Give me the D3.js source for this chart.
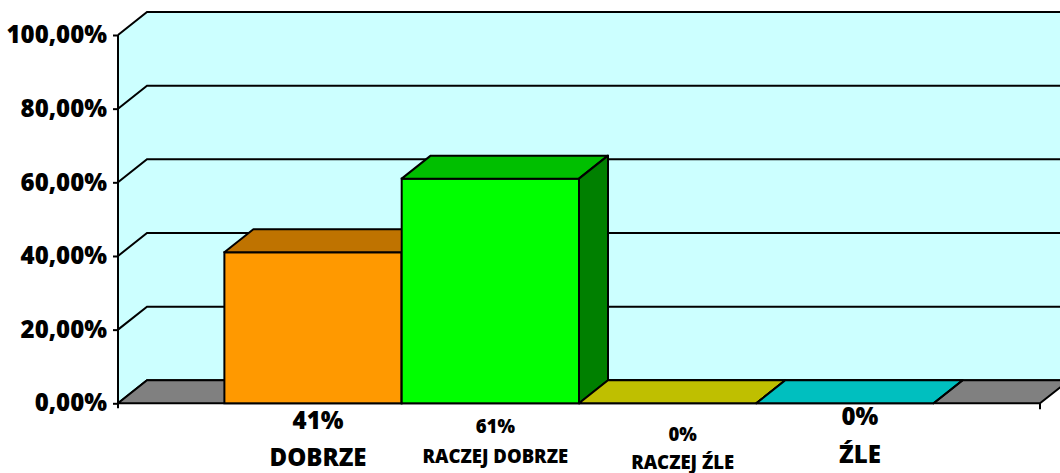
<!DOCTYPE html>
<html lang="pl">
<head>
<meta charset="UTF-8">
<title>Ocena</title>
<script src="https://d3js.org/d3.v7.min.js"></script>
<style>
  body { margin: 0; background: #fff; }
  svg { display: block; font-family: "Open Sans", sans-serif; font-weight: 800; }
</style>
</head>
<body>
<script>
// dane
const categories = ["DOBRZE", "RACZEJ DOBRZE", "RACZEJ ŹLE", "ŹLE"];
const values = [41, 61, 0, 0];
const colors = ["#ff9900", "#00ff00", "#ffff00", "#00ffff"];
const yTicks = [0, 20, 40, 60, 80, 100];

// ustawienia etykiet pod słupkami (przesunięcia od podstawy osi)
const labelLayout = [
  { dx: 5,  vy: 26, ny: 63, size: 24 },
  { dx: 5,  vy: 30, ny: 60, size: 18.5 },
  { dx: 15, vy: 38, ny: 66, size: 18.5 },
  { dx: 15, vy: 22, ny: 60, size: 24 }
];

const width = 1060, height = 473;
const depthX = 29, depthY = -23;
const plotLeft = 118, plotRight = 1040, plotTop = 35, plotBase = 403.3;

const svg = d3.select("body").append("svg")
  .attr("width", width).attr("height", height);

const y = d3.scaleLinear().domain([0, 100]).range([plotBase, plotTop]);
const x = d3.scaleBand().domain(categories).range([plotLeft, plotRight])
  .paddingInner(0).paddingOuter(0.6);

const pl = d3.formatLocale({ decimal: ",", thousands: " ", grouping: [3], currency: ["", " zł"] });
const pct = pl.format(".2%");

function shade(c, k) {
  const r = d3.rgb(c);
  return d3.rgb(r.r * k, r.g * k, r.b * k).formatHex();
}
const pts = a => a.map(p => p.join(",")).join(" ");

// ściany
svg.append("polygon")
  .attr("points", pts([[plotLeft, y(100)], [plotLeft + depthX, y(100) + depthY], [plotLeft + depthX, y(0) + depthY], [plotLeft, y(0)]]))
  .attr("fill", "#ccffff");
svg.append("rect")
  .attr("x", plotLeft + depthX).attr("y", y(100) + depthY)
  .attr("width", width).attr("height", y(0) - y(100))
  .attr("fill", "#ccffff");

// linie siatki
svg.append("g").selectAll("path").data(yTicks).join("path")
  .attr("d", t => `M${plotLeft},${y(t)}L${plotLeft + depthX},${y(t) + depthY}H${width + 40}`)
  .attr("fill", "none").attr("stroke", "#000").attr("stroke-width", 2);

// podłoga
svg.append("polygon")
  .attr("points", pts([[plotLeft, y(0)], [plotLeft + depthX, y(0) + depthY], [plotRight + depthX, y(0) + depthY], [plotRight, y(0)]]))
  .attr("fill", "#808080").attr("stroke", "#000").attr("stroke-width", 2)
  .attr("stroke-linejoin", "round");

// słupki 3D
const bars = svg.append("g").selectAll("g").data(categories).join("g");
bars.each(function (c, i) {
  const g = d3.select(this);
  const x0 = x(c), x1 = x(c) + x.bandwidth();
  const yt = y(values[i]), yb = y(0);
  const col = colors[i];
  g.append("rect")
    .attr("x", x0).attr("y", yt).attr("width", x1 - x0).attr("height", yb - yt)
    .attr("fill", col).attr("stroke", "#000").attr("stroke-width", 2);
  g.append("polygon")
    .attr("points", pts([[x0, yt], [x0 + depthX, yt + depthY], [x1 + depthX, yt + depthY], [x1, yt]]))
    .attr("fill", shade(col, 0.75)).attr("stroke", "#000").attr("stroke-width", 2)
    .attr("stroke-linejoin", "round");
  g.append("polygon")
    .attr("points", pts([[x1, yt], [x1 + depthX, yt + depthY], [x1 + depthX, yb + depthY], [x1, yb]]))
    .attr("fill", shade(col, 0.5)).attr("stroke", "#000").attr("stroke-width", 2)
    .attr("stroke-linejoin", "round");
});

// oś Y
const axis = d3.axisLeft(y).tickValues(yTicks).tickSize(5).tickSizeOuter(0).tickPadding(6)
  .tickFormat(d => pct(d / 100));
const ga = svg.append("g").attr("transform", `translate(${plotLeft},0)`).call(axis);
ga.select(".domain").remove();
ga.selectAll("line").attr("stroke", "#000").attr("stroke-width", 2);
ga.selectAll("text").attr("fill", "#000").style("font-size", "24px").style("font-weight", "800")
  .style("font-family", "'Open Sans', sans-serif");
svg.append("line")
  .attr("x1", plotLeft).attr("x2", plotLeft).attr("y1", y(100)).attr("y2", y(0) + 5)
  .attr("stroke", "#000").attr("stroke-width", 2);
svg.append("line")
  .attr("x1", plotRight).attr("x2", plotRight).attr("y1", y(0)).attr("y2", y(0) + 6)
  .attr("stroke", "#000").attr("stroke-width", 2);

// etykiety kategorii
const lab = svg.append("g").selectAll("g").data(categories).join("g");
lab.append("text")
  .attr("x", (c, i) => x(c) + x.bandwidth() / 2 + labelLayout[i].dx)
  .attr("y", (c, i) => y(0) + labelLayout[i].vy)
  .attr("text-anchor", "middle")
  .style("font-size", (c, i) => labelLayout[i].size + "px")
  .text((c, i) => values[i] + "%");
lab.append("text")
  .attr("x", (c, i) => x(c) + x.bandwidth() / 2 + labelLayout[i].dx)
  .attr("y", (c, i) => y(0) + labelLayout[i].ny)
  .attr("text-anchor", "middle")
  .style("font-size", (c, i) => labelLayout[i].size + "px")
  .text(c => c);
</script>
</body>
</html>
